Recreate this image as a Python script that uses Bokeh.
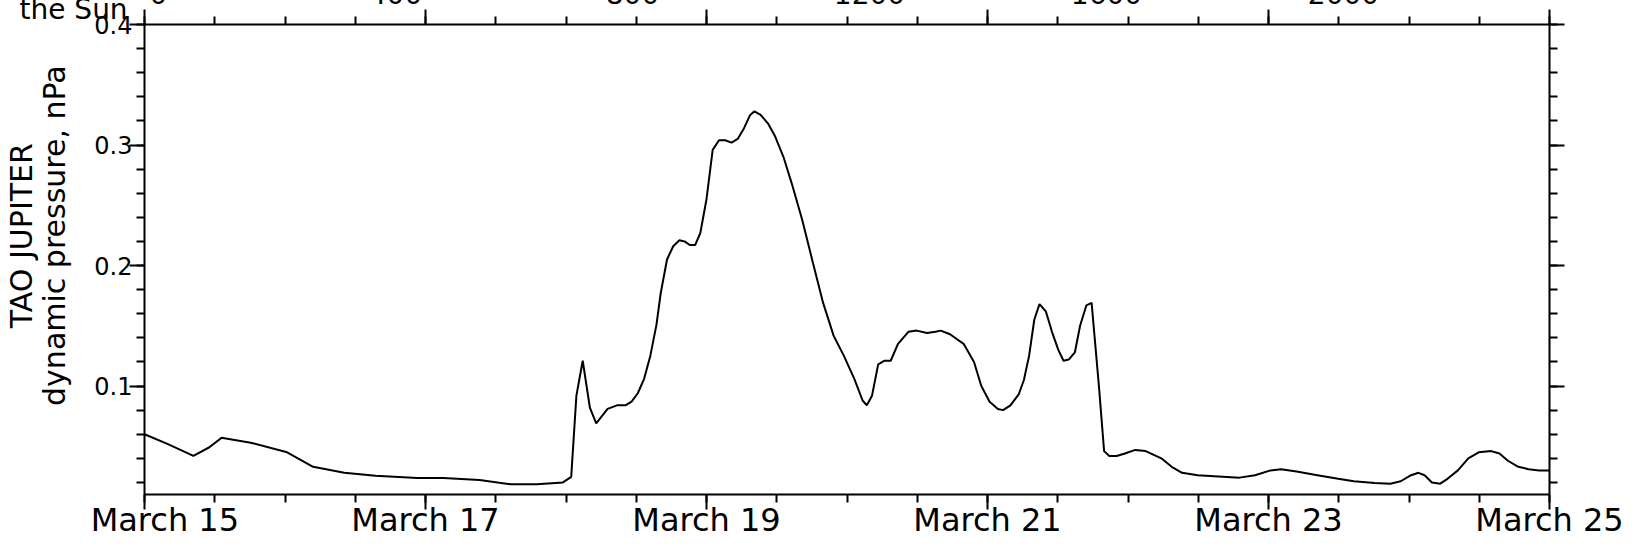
from bokeh.plotting import figure
from bokeh.models import FixedTicker, LinearAxis, Range1d, Title, CustomLabelingPolicy
from bokeh.embed import file_html
from bokeh.resources import INLINE

# ---- data (days after March 15, 00:00) ----
days = [0.000, 0.163, 0.348, 0.459, 0.548, 0.756, 1.015, 1.200, 1.422, 1.644,
        1.941, 2.126, 2.385, 2.607, 2.793, 2.978, 3.037, 3.074, 3.119, 3.170,
        3.215, 3.296, 3.363, 3.422, 3.467, 3.511, 3.556, 3.600, 3.644, 3.674,
        3.719, 3.763, 3.807, 3.844, 3.881, 3.919, 3.956, 4.000, 4.044, 4.089,
        4.133, 4.178, 4.222, 4.267, 4.311, 4.341, 4.385, 4.437, 4.489, 4.548,
        4.607, 4.681, 4.756, 4.830, 4.904, 4.978, 5.052, 5.111, 5.141, 5.178,
        5.222, 5.267, 5.311, 5.363, 5.437, 5.496, 5.570, 5.630, 5.667, 5.733,
        5.830, 5.904, 5.956, 6.015, 6.074, 6.111, 6.163, 6.222, 6.259, 6.296,
        6.333, 6.370, 6.415, 6.459, 6.504, 6.541, 6.578, 6.622, 6.659, 6.704,
        6.741, 6.793, 6.830, 6.867, 6.919, 6.978, 7.052, 7.126, 7.237, 7.311,
        7.385, 7.496, 7.644, 7.793, 7.904, 8.015, 8.089, 8.200, 8.348, 8.496,
        8.607, 8.756, 8.867, 8.941, 9.015, 9.067, 9.111, 9.163, 9.222, 9.274,
        9.348, 9.422, 9.496, 9.585, 9.644, 9.704, 9.778, 9.852, 9.926, 10.000]
pressure = [0.060, 0.052, 0.042, 0.049, 0.057, 0.053, 0.045, 0.033, 0.028, 0.0255,
            0.0237, 0.0237, 0.022, 0.0185, 0.0185, 0.020, 0.0246, 0.092, 0.121, 0.082,
            0.069, 0.081, 0.084, 0.084, 0.087, 0.094, 0.106, 0.125, 0.151, 0.177,
            0.205, 0.216, 0.221, 0.220, 0.217, 0.217, 0.227, 0.255, 0.296, 0.304,
            0.304, 0.302, 0.305, 0.314, 0.325, 0.328, 0.325, 0.318, 0.307, 0.290,
            0.268, 0.238, 0.203, 0.169, 0.142, 0.125, 0.106, 0.088, 0.084, 0.092,
            0.118, 0.121, 0.121, 0.135, 0.145, 0.146, 0.144, 0.145, 0.146, 0.143,
            0.135, 0.120, 0.100, 0.087, 0.081, 0.080, 0.084, 0.093, 0.105, 0.125,
            0.155, 0.168, 0.162, 0.145, 0.130, 0.121, 0.122, 0.128, 0.150, 0.167,
            0.169, 0.100, 0.046, 0.042, 0.042, 0.044, 0.047, 0.046, 0.040, 0.033,
            0.028, 0.026, 0.025, 0.024, 0.026, 0.030, 0.031, 0.029, 0.026, 0.023,
            0.021, 0.0195, 0.019, 0.021, 0.026, 0.028, 0.026, 0.020, 0.019, 0.023,
            0.030, 0.040, 0.045, 0.046, 0.044, 0.038, 0.033, 0.031, 0.030, 0.030]

date_ticks = [0, 2, 4, 6, 8, 10]
date_labels = ["March 15", "March 17", "March 19", "March 21", "March 23", "March 25"]
date_minor = [i * 0.5 for i in range(21)]

y_ticks = [0.1, 0.2, 0.3, 0.4]
y_minor = [round(0.02 * i, 2) for i in range(1, 21)]

dist_ticks = [0, 400, 800, 1200, 1600, 2000]
dist_title = "the Sun"

y_title_lines = ["TAO JUPITER", "dynamic pressure, nPa"]

FONT = "DejaVu Sans"
SHIFT = 40  # canvas starts this far above the window, so the top labels are cut as in the original
PAD = "\u00a0" * 5  # lifts the left title a little above the centre, as in the original

p = figure(width=1628, height=586, x_range=Range1d(0, 10), y_range=Range1d(0.01, 0.4),
           output_backend="svg", toolbar_location=None, title_location=None,
           min_border_left=144, min_border_right=79, min_border_top=24 + SHIFT,
           min_border_bottom=52, margin=(-SHIFT, 0, 0, 0))
p.extra_x_ranges = {"dist": Range1d(-23.6, 2347.7)}
p.grid.visible = False
p.outline_line_color = None
p.background_fill_color = "white"

p.line(days, pressure, line_color="black", line_width=2)

xt = FixedTicker(ticks=date_ticks, minor_ticks=date_minor)
yt = FixedTicker(ticks=y_ticks, minor_ticks=y_minor)
no_labels = CustomLabelingPolicy(code="return new Set()")


def style(ax):
    ax.axis_line_width = 2
    ax.axis_line_color = "black"
    ax.major_tick_line_width = 2
    ax.minor_tick_line_width = 2
    ax.major_tick_line_color = "black"
    ax.minor_tick_line_color = "black"
    ax.major_tick_out = 15
    ax.major_tick_in = 0
    ax.minor_tick_out = 8
    ax.minor_tick_in = 0


def bare(ax):
    ax.axis_line_color = None
    ax.major_tick_line_color = None
    ax.minor_tick_line_color = None
    ax.major_tick_out = 0
    ax.major_tick_in = 0
    ax.minor_tick_out = 0
    ax.minor_tick_in = 0


# bottom dates
bx = p.xaxis[0]
bx.ticker = xt
style(bx)
overrides = {t: l for t, l in zip(date_ticks, date_labels)}
overrides[date_ticks[0]] = "\u00a0\u00a0\u00a0\u00a0" + date_labels[0]
bx.major_label_overrides = overrides
bx.major_label_text_font = FONT
bx.major_label_text_font_size = "32px"
bx.major_label_text_color = "black"
bx.major_label_standoff = -9

# left values and the two-line title
ly = p.yaxis[0]
ly.ticker = yt
style(ly)
ly.major_label_text_font = FONT
ly.major_label_text_font_size = "24px"
ly.major_label_text_color = "black"
ly.major_label_standoff = -3
ly.axis_label = "\n".join(PAD + t for t in y_title_lines)
ly.axis_label_text_font = FONT
ly.axis_label_text_font_size = "30px"
ly.axis_label_text_font_style = "normal"
ly.axis_label_text_color = "black"
ly.axis_label_text_line_height = 0.95
ly.axis_label_standoff = 19

# top ticks
tx = LinearAxis(ticker=xt)
style(tx)
tx.major_label_text_font_size = "0px"
tx.major_label_standoff = 0
tx.major_label_policy = no_labels
p.add_layout(tx, "above")

# "the Sun" caption
p.add_layout(Title(text=dist_title, align="left", offset=-125, standoff=-33,
                   text_font=FONT, text_font_size="28px", text_font_style="normal",
                   text_color="black"), "above")

# top distance labels
dx = LinearAxis(x_range_name="dist", ticker=FixedTicker(ticks=dist_ticks, minor_ticks=[]))
bare(dx)
dx.major_label_text_font = FONT
dx.major_label_text_font_size = "28px"
dx.major_label_text_color = "black"
dx.major_label_standoff = 4
p.add_layout(dx, "above")

# right ticks
ry = LinearAxis(ticker=yt)
style(ry)
ry.major_label_text_font_size = "0px"
ry.major_label_standoff = 0
ry.major_label_policy = no_labels
p.add_layout(ry, "right")

open("out.html", "w").write(file_html(p, INLINE))
